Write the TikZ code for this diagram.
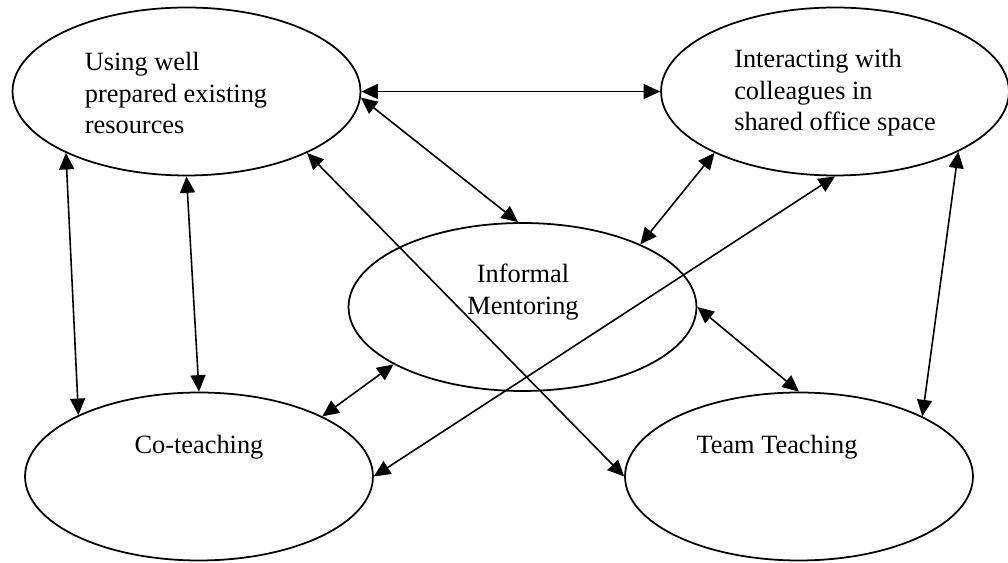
\documentclass[tikz,border=0pt]{standalone}
\usepackage{fontspec}
\setmainfont{Liberation Serif}
\usepackage{tikz}
\usetikzlibrary{arrows.meta,shapes.geometric}
\tikzset{every node/.style={font=\fontsize{15}{18}\selectfont}}

\begin{document}
\begin{tikzpicture}[line join=round,>={Triangle[length=3.3mm,width=3mm]},x=0.02cm,y=-0.02cm,
    blob/.style={ellipse,draw,line width=1pt,minimum width=6.96cm,minimum height=3.36cm,inner sep=0pt},
    link/.style={<->,line width=0.9pt}]
                    \useasboundingbox (0,0) rectangle (1008,563);
                    % the five ellipses
                    \node[blob] (use) at (186.5,91.5) {};
                    \node[blob] (int) at (835,91.5) {};
                    \node[blob] (inf) at (522.5,307) {};
                    \node[blob] (co) at (199,476.5) {};
                    \node[blob] (team) at (799,476.5) {};

                    \node[align=left] (usetxt) at (176,93) {Using well\\prepared existing\\resources};
                    \node[align=left] (inttxt) at (835,93) {Interacting with\\colleagues in\\shared office space};
                    \node[align=center] (inftxt) at (523,292) {Informal\\Mentoring};
                    \node (cotxt) at (199,447) {Co-teaching};
                    \node (teamtxt) at (777,447) {Team Teaching};

                    % connectors
                    \draw [link] (use.east) -- (int.west);
                    \draw [link] (use.-2) -- (inf.93);
                    \draw [link] (int.-153) -- (inf.28);
                    \draw [link] (use.-153) -- (co.153);
                    \draw [link] (use.south) -- (co.north);
                    \draw [link] (use.-27) -- (team.west);
                    \draw [link] (int.south) -- (co.east);
                    \draw [link] (inf.-156) -- (co.26);
                    \draw [link] (inf.east) -- (team.north);
                    \draw [link] (int.-26) -- (team.26);
                    \end{tikzpicture}
\end{document}
